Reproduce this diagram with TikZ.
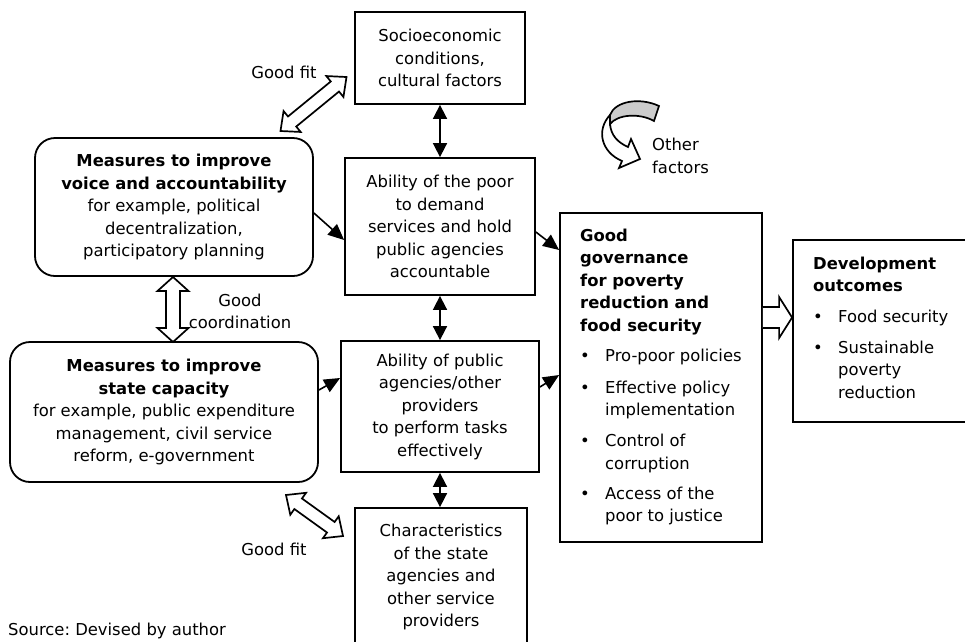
\documentclass[tikz,border=0pt]{standalone}
\usepackage{fontspec}
\setmainfont{DejaVu Sans}
\usetikzlibrary{calc,arrows.meta}
\frenchspacing
\newcommand\fsz{\fontsize{16.4pt}{22.5pt}\selectfont}
\newcommand\bl{\makebox[25pt][l]{\textbullet}}
\newcommand\ind{\hspace*{25pt}}
\tikzset{
  box/.style={draw, line width=1.8pt, inner sep=0pt, align=center, font=\fsz},
  rbox/.style={box, rounded corners=20pt},
  txt/.style={inner sep=0pt, font=\fsz},
  hollow/.style={draw, fill=white, line width=1.7pt, line join=miter},
  dblarr/.style={line width=1.7pt, {Triangle[length=14pt,width=14pt]}-{Triangle[length=14pt,width=14pt]}},
  sarr/.style={line width=1.6pt, -{Triangle[length=16pt,width=14pt]}}
}
% hollow double-headed block arrow: #1 A, #2 B, #3 shaft half width, #4 head half width, #5 head length
\newcommand{\hollowdbl}[5]{%
  \coordinate (hdCa) at ($(#1)!#5!(#2)$);
  \coordinate (hdCb) at ($(#2)!#5!(#1)$);
  \draw[hollow] (#1) -- ($(hdCa)!#4!90:(#2)$) -- ($(hdCa)!#3!90:(#2)$) -- ($(hdCb)!#3!90:(#2)$) -- ($(hdCb)!#4!90:(#2)$) -- (#2)
    -- ($(hdCb)!#4!-90:(#2)$) -- ($(hdCb)!#3!-90:(#2)$) -- ($(hdCa)!#3!-90:(#2)$) -- ($(hdCa)!#4!-90:(#2)$) -- cycle;}
% hollow single block arrow
\newcommand{\hollowsgl}[5]{%
  \coordinate (hsC) at ($(#2)!#5!(#1)$);
  \draw[hollow] ($(#1)!#3!90:(#2)$) -- ($(hsC)!#3!90:(#2)$) -- ($(hsC)!#4!90:(#2)$) -- (#2)
    -- ($(hsC)!#4!-90:(#2)$) -- ($(hsC)!#3!-90:(#2)$) -- ($(#1)!#3!-90:(#2)$);}
\begin{document}
\begin{tikzpicture}[x=1pt, y=-1pt]
\fill[white] (0,0) rectangle (965,641);
\useasboundingbox (0,0) rectangle (965,641);

% boxes
\node[box, minimum width=170pt, minimum height=92pt] (socio) at (440,58) {Socioeconomic\\conditions,\\cultural factors};
\node[box, minimum width=190pt, minimum height=137pt] (poor) at (440,226.5) {Ability of the poor\\to demand\\services and hold\\public agencies\\accountable};
\node[rbox, minimum width=278pt, minimum height=138pt] (voice) at (174,207) {\textbf{Measures to improve}\\\textbf{voice and accountability}\\for example, political\\decentralization,\\participatory planning};
\node[rbox, minimum width=308pt, minimum height=140pt] (state) at (164,412) {\textbf{Measures to improve}\\\textbf{state capacity}\\for example, public expenditure\\management, civil service\\reform, e-government};
\node[box, minimum width=198pt, minimum height=131pt] (public) at (440,406.5) {Ability of public\\agencies/other\\providers\\to perform tasks\\effectively};
\node[box, minimum width=172pt, minimum height=138pt] (charac) at (441,577) {Characteristics\\of the state\\agencies and\\other service\\providers};
\node[box, minimum width=202pt, minimum height=329pt] (gov) at (661,377.5) {};
\node[txt, anchor=north west, align=left] (govtxt) at (580,228.5) {\textbf{Good}\\\textbf{governance}\\\textbf{for poverty}\\\textbf{reduction and}\\\textbf{food security}\\[7.5pt]
\bl Pro-poor policies\\[9.5pt]
\bl Effective policy\\\ind implementation\\[8.5pt]
\bl Control of\\\ind corruption\\[7.5pt]
\bl Access of the\\\ind poor to justice};
\node[box, minimum width=174pt, minimum height=182pt] (dev) at (880,331) {};
\node[txt, anchor=north west, align=left] (devtxt) at (813,256.5) {\textbf{Development}\\\textbf{outcomes}\\[8pt]
\bl Food security\\[8.5pt]
\bl Sustainable\\\ind poverty\\\ind reduction};

% labels
\node[txt] (fitA) at (284,72) {Good fit};
\node[txt, align=center] (coordlbl) at (240,311.5) {Good\\coordination};
\node[txt] (fitB) at (274,549) {Good fit};
\node[txt, anchor=west, align=left] (other) at (652,156) {Other\\factors};
\node[txt, anchor=base west] (src) at (8,635.5) {Source: Devised by author};

% filled connectors
\draw[dblarr] (socio.south) -- (poor.north);
\draw[dblarr] (poor.south) -- (public.north);
\draw[dblarr] (public.south) -- (public.south |- charac.north);
\draw[sarr] ($(voice.east)+(0,6)$) -- ($(poor.west)+(0,13.5)$);
\draw[sarr] ($(state.east)+(0,-22)$) -- ($(public.west)+(0,-28.5)$);
\draw[sarr] ($(poor.east)+(0,5.5)$) -- ($(gov.west)+(0,-127.5)$);
\draw[sarr] ($(public.east)+(0,-19.5)$) -- ($(gov.west)+(0,-2.5)$);

% hollow block arrows
\coordinate (gfA1) at (280.5,131);
\coordinate (gfA2) at (346.5,77);
\hollowdbl{gfA1}{gfA2}{6.5pt}{13.5pt}{15pt}
\coordinate (gc1) at (173,277);
\coordinate (gc2) at (173,342);
\hollowdbl{gc1}{gc2}{7pt}{15.5pt}{14pt}
\coordinate (gfB1) at (286,495);
\coordinate (gfB2) at (343,536);
\hollowdbl{gfB1}{gfB2}{6.5pt}{13.5pt}{15pt}
\coordinate (go1) at (gov.east |- 0,317.5);
\coordinate (go2) at (dev.west |- 0,317.5);
\hollowsgl{go1}{go2}{10.5pt}{20.5pt}{13pt}

% other factors curved arrow
\draw[hollow] (610,115) .. controls (596,130) and (601,152) .. (622,161) -- (619,168) -- (640,159) -- (631,139) -- (628,147) .. controls (617,142) and (611,135) .. (610,124) -- cycle;
\draw[hollow, fill=gray!40] (659,106) .. controls (640,97) and (615,101) .. (610,115) -- (610,124) .. controls (618,114) and (640,113) .. (654,121) -- cycle;
\end{tikzpicture}
\end{document}
